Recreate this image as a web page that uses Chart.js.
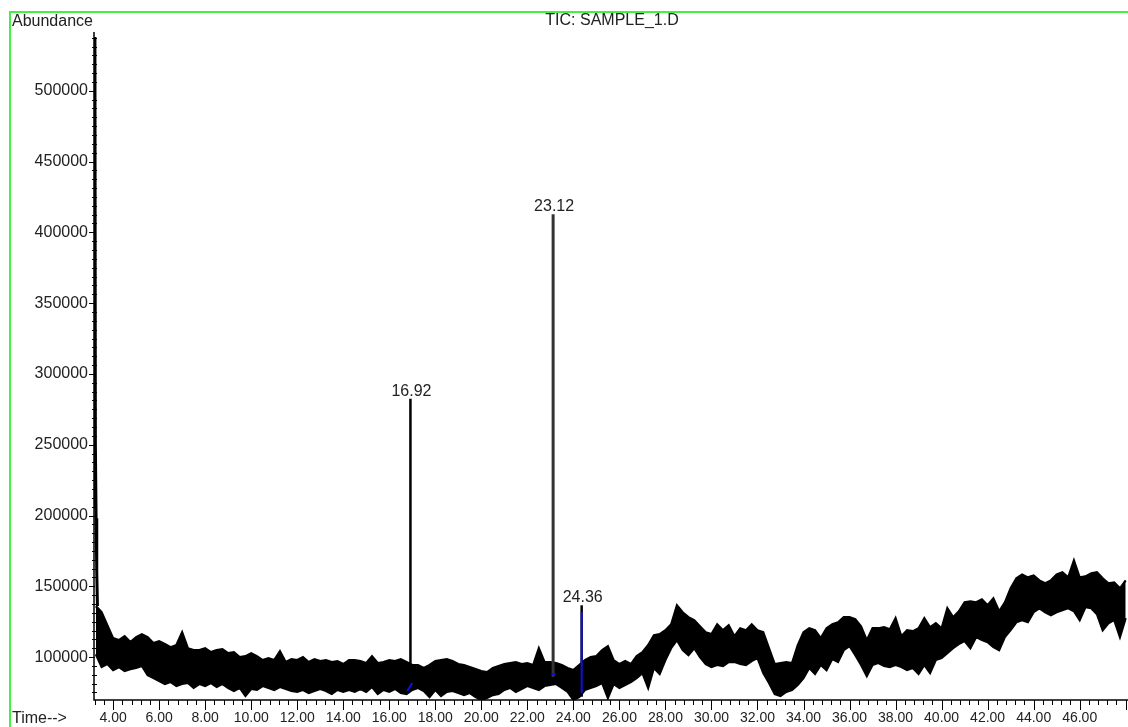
<!DOCTYPE html>
<html>
<head>
<meta charset="utf-8">
<title>TIC: SAMPLE_1.D</title>
<script src="https://cdn.jsdelivr.net/npm/chart.js@4.4.1/dist/chart.umd.min.js"></script>
<style>
  html, body { margin: 0; padding: 0; background: #fff; }
  #wrap { width: 1128px; height: 727px; }
</style>
</head>
<body>
<div id="wrap"><canvas id="tic" width="1128" height="727"></canvas></div>
<script>
const tiempoInicio = 3.25;
const paso = 0.25;

// Etiquetas de los ejes
const ticksX = [4, 6, 8, 10, 12, 14, 16, 18, 20, 22, 24, 26, 28, 30, 32, 34, 36, 38, 40, 42, 44, 46];
const ticksY = [100000, 150000, 200000, 250000, 300000, 350000, 400000, 450000, 500000];

// Borde superior de la banda de ruido, desde 3.25 min cada 0.25 min
const envolventeSup = [
  136000, 131700, 122500,
  113400, 112000, 114800, 110600,
  114100, 116200, 114100, 109900,
  111300, 109200, 107000, 108500,
  117600, 106300, 104900, 104900,
  106300, 103500, 104900, 105600,
  102800, 103500, 100000, 100700,
  102800, 100700, 97900, 99300,
  97900, 104200, 96500, 98600,
  97900, 100000, 96500, 98600,
  97200, 97900, 96500, 97200,
  95100, 97900, 97900, 97200,
  95800, 100700, 95800, 96500,
  97900, 97200, 98600, 96500,
  94400, 94400, 92300, 94400,
  97200, 97900, 98600, 97200,
  95100, 94400, 93000, 91500,
  90100, 89400, 92300, 93700,
  95100, 95800, 96500, 95100,
  95800, 94400, 106300, 96500,
  96500, 95800, 94400, 92300,
  90800, 94400, 97900, 100000,
  100700, 104900, 107700, 97900,
  95100, 97200, 95100, 100700,
  103500, 108500, 115500, 116200,
  119000, 123200, 136600, 131700,
  128200, 126100, 121800, 117600,
  116200, 123200, 119000, 122500,
  114800, 120400, 119000, 123200,
  119000, 117600, 106300, 95100,
  95800, 96500, 95800, 108500,
  117600, 120400, 119000, 113400,
  120400, 123200, 124600, 128200,
  128200, 126800, 121800, 112000,
  120400, 120400, 121100, 119700,
  127500, 114800, 119000, 118300,
  120400, 127500, 121100, 123900,
  120400, 134500, 128200, 132400,
  138700, 139400, 138700, 140800,
  136600, 141500, 132400, 138700,
  148600, 155600, 158400, 156300,
  157700, 154200, 152100, 154200,
  158400, 159900, 156300, 168300,
  156300, 157000, 159200, 159900,
  155600, 152100, 152800, 148600,
  154200
];

// Borde inferior de la banda de ruido
const envolventeInf = [
  102000, 93000, 95100,
  90800, 92900, 90100, 91500,
  92300, 93700, 87300, 85200,
  83100, 81000, 82400, 79600,
  81000, 81700, 78200, 81000,
  79600, 81700, 78900, 81000,
  78200, 76100, 78200, 72500,
  77500, 76800, 79600, 78200,
  76800, 78900, 77500, 76100,
  75400, 76800, 74600, 76100,
  77500, 76100, 73900, 76800,
  75400, 76800, 75400, 77500,
  75400, 78900, 73900, 76800,
  75400, 77500, 74600, 73900,
  76800, 78200, 76100, 71800,
  76800, 72500, 75400, 76100,
  74600, 73200, 74600, 71800,
  69700, 71100, 73200, 73900,
  76800, 78200, 75400, 77500,
  79600, 78200, 76800, 79600,
  80300, 81000, 78200, 75400,
  69700, 71800, 76800, 78200,
  79600, 81700, 71100, 81000,
  78200, 80300, 82400, 85200,
  88700, 78200, 92300, 88000,
  97900, 106300, 112000, 104900,
  101400, 106300, 100000, 95100,
  93000, 94400, 93700, 96500,
  96500, 95100, 94400, 97200,
  99300, 88700, 81700, 73900,
  72500, 75400, 76800, 80300,
  85200, 92300, 88000, 94400,
  90800, 98600, 96500, 104900,
  107700, 101400, 94400, 86600,
  94400, 95800, 93700, 93000,
  94400, 93000, 90800, 92300,
  88000, 94400, 88700, 97900,
  99300, 102800, 106300, 109200,
  111300, 106300, 114100, 112000,
  110600, 107000, 104900, 114100,
  119000, 124600, 126100, 124600,
  131700, 134500, 131700, 129600,
  131700, 133100, 134500, 132400,
  126100, 135200, 134500, 130300,
  119000, 123900, 126100, 114100,
  127500
];

// Pico del frente de disolvente al inicio
const inicioTiempos = [3.19, 3.21, 3.23, 3.26, 3.29, 3.32];
const inicioValores = [205000, 538000, 250000, 198000, 160000, 136000];

// Picos etiquetados
const picosTiempo = [16.92, 23.12, 24.36];
const picosAltura = [282400, 412700, 136600];
const picosBase = [90000, 86000, 72000];
const picosEtiqueta = ['16.92', '23.12', '24.36'];

// Marcas azules de integracion
const marcasTiempo = [[16.78, 17.0], [23.06, 23.23], [24.36, 24.36]];
const marcasValor = [[76100, 81700], [88000, 88000], [74600, 131700]];

const fuente = '"Liberation Sans", Arial, sans-serif';

// Ejes, marcas menores, marco verde y textos
const dibujoEjes = {
  id: 'dibujoEjes',
  afterDraw(chart) {
    const ctx = chart.ctx;
    const { left, right, top, bottom } = chart.chartArea;
    const x = chart.scales.x;
    const y = chart.scales.y;
    ctx.save();

    ctx.strokeStyle = '#44f044';
    ctx.lineWidth = 2;
    ctx.beginPath();
    ctx.moveTo(10, 730);
    ctx.lineTo(10, 12);
    ctx.lineTo(1130, 12);
    ctx.stroke();

    ctx.strokeStyle = '#000';
    ctx.lineWidth = 1.5;
    ctx.beginPath();
    ctx.moveTo(left, top);
    ctx.lineTo(left, bottom);
    ctx.lineTo(right, bottom);
    ctx.stroke();

    ctx.lineWidth = 1;
    for (let v = 75000; v <= y.max; v += 6250) {
      const py = Math.round(y.getPixelForValue(v)) + 0.5;
      const mayor = v % 50000 === 0;
      ctx.beginPath();
      ctx.moveTo(left - (mayor ? 5 : 2), py);
      ctx.lineTo(left + (mayor ? 1 : 3), py);
      ctx.stroke();
    }
    for (let i = 8; i * 0.4 <= x.max; i++) {
      const px = Math.round(x.getPixelForValue(i * 0.4)) + 0.5;
      const mayor = i % 5 === 0;
      ctx.beginPath();
      ctx.moveTo(px, bottom);
      ctx.lineTo(px, bottom + (mayor ? 10 : 5));
      ctx.stroke();
    }

    ctx.fillStyle = '#222';
    ctx.font = '16px ' + fuente;
    ctx.textBaseline = 'middle';
    ctx.textAlign = 'left';
    ctx.fillText('Abundance', 12, 22);
    ctx.fillText('Time-->', 12, 719);
    ctx.textAlign = 'center';
    ctx.fillText('TIC: SAMPLE_1.D', 612, 21);

    ctx.textBaseline = 'alphabetic';
    picosTiempo.forEach((t, i) => {
      const px = x.getPixelForValue(t);
      const py = y.getPixelForValue(picosAltura[i]);
      ctx.fillText(picosEtiqueta[i], px + 1, py - 3);
    });
    ctx.restore();
  }
};

const puntosSup = envolventeSup.map((v, i) => ({ x: tiempoInicio + i * paso, y: v }));
const puntosInf = envolventeInf.map((v, i) => ({ x: tiempoInicio + i * paso, y: v }));
const puntosInicio = inicioTiempos.map((t, i) => ({ x: t, y: inicioValores[i] }));

const conjuntos = [];
marcasTiempo.forEach((par, i) => {
  conjuntos.push({
    data: [{ x: par[0], y: marcasValor[i][0] }, { x: par[1], y: marcasValor[i][1] }],
    borderColor: '#1010e0',
    borderWidth: 2
  });
});
picosTiempo.forEach((t, i) => {
  conjuntos.push({
    data: [{ x: t, y: picosBase[i] }, { x: t, y: picosAltura[i] }],
    borderColor: i === 1 ? '#333' : '#000',
    borderWidth: i === 1 ? 3 : 2.5
  });
});
conjuntos.push({ data: puntosInicio, borderColor: '#000', borderWidth: 3 });
conjuntos.push({ data: puntosSup, borderColor: '#000', borderWidth: 2.2, fill: '+1', backgroundColor: '#000' });
conjuntos.push({ data: puntosInf, borderColor: '#000', borderWidth: 2.2 });

new Chart(document.getElementById('tic'), {
  type: 'line',
  data: { datasets: conjuntos },
  options: {
    responsive: false,
    animation: false,
    devicePixelRatio: 1,
    elements: { point: { radius: 0 }, line: { tension: 0 } },
    layout: { padding: { top: 32, left: 0, right: 0, bottom: 0 } },
    plugins: { legend: { display: false }, tooltip: { enabled: false } },
    scales: {
      x: {
        type: 'linear',
        min: 3.17,
        max: 48.1,
        afterFit: (s) => { s.height = 27; s.paddingRight = 0; s.paddingLeft = 0; },
        afterBuildTicks: (s) => { s.ticks = ticksX.map((v) => ({ value: v })); },
        grid: { display: false, drawTicks: false },
        border: { display: false },
        ticks: {
          autoSkip: false,
          maxRotation: 0,
          padding: 10,
          color: '#222',
          font: { family: fuente, size: 14 },
          callback: (v) => Number(v).toFixed(2)
        }
      },
      y: {
        type: 'linear',
        min: 69700,
        max: 541500,
        afterFit: (s) => { s.width = 94; },
        afterBuildTicks: (s) => { s.ticks = ticksY.map((v) => ({ value: v })); },
        grid: { display: false, drawTicks: false },
        border: { display: false },
        ticks: {
          padding: 6,
          color: '#222',
          font: { family: fuente, size: 16 },
          callback: (v) => String(v)
        }
      }
    }
  },
  plugins: [dibujoEjes]
});
</script>
</body>
</html>
